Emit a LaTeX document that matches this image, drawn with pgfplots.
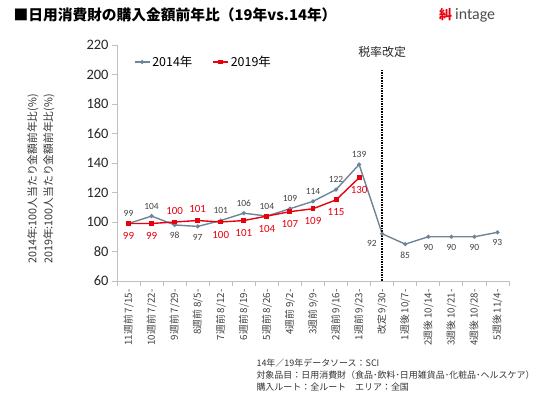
\documentclass[border=0pt]{standalone}
\usepackage{pgfplots}
\pgfplotsset{compat=1.18}
\usepackage{fontspec}
\setmainfont{Carlito}
\newfontfamily\cjk{Noto Sans CJK JP}
\definecolor{c14}{HTML}{6F8497}
\definecolor{c19}{HTML}{E8000F}
\definecolor{lab14}{HTML}{404040}
\definecolor{axgray}{HTML}{BFBFBF}
\pgfkeys{/pgf/number format/assume math mode=true}
\begin{document}
\begin{tikzpicture}[x=1bp,y=1bp]
\useasboundingbox (0,0) rectangle (544,398);
\node[anchor=west, font=\cjk\bfseries\fontsize{14.8}{16}\selectfont] at (10,383) {■日用消費財の購入金額前年比（19年vs.14年）};
\node[anchor=west, text=c19, font=\cjk\bfseries\fontsize{13}{14}\selectfont, inner sep=0] at (439,383) {糾};
\node[anchor=west, text=black!70, font=\fontsize{16}{18}\selectfont, inner sep=0] at (455,383) {intage};
\node[rotate=90, font=\cjk\fontsize{10.8}{12}\selectfont, text=black!80] at (33,219) {2014年:100人当たり金額前年比(\%)};
\node[rotate=90, font=\cjk\fontsize{10.8}{12}\selectfont, text=black!80] at (49,219) {2019年:100人当たり金額前年比(\%)};
\begin{axis}[
  at={(117bp,117bp)}, anchor=south west,
  scale only axis, width=392bp, height=236bp,
  xmin=-0.5, xmax=16.5, ymin=60, ymax=220,
  axis lines=left, axis line style={draw=axgray, line width=0.8pt, -},
  ytick={60,80,...,220},
  ytick style={draw=axgray, line width=0.8pt},
  tick align=outside, major tick length=5bp,
  yticklabel style={font=\fontsize{14.5}{16}\selectfont, text=black!85},
  xtick={0,...,16},
  xtick style={draw=none},
  xticklabels={11週前 7/15-,10週前 7/22-,9週前 7/29-,8週前 8/5-,7週前 8/12-,6週前 8/19-,5週前 8/26-,4週前 9/2-,3週前 9/9-,2週前 9/16-,1週前 9/23-,改定 9/30-,1週後 10/7-,2週後 10/14-,3週後 10/21-,4週後 10/28-,5週後 11/4-},
  xticklabel style={rotate=90, anchor=east, font=\cjk\fontsize{9.8}{10}\selectfont, text=lab14},
  extra x ticks={-0.5,0.5,...,16.5},
  extra x tick labels={},
  extra x tick style={xtick style={draw=axgray, line width=0.8pt}},
  legend style={at={(0.035,0.928)}, anchor=west, draw=none, fill=none, legend columns=2,
    font=\cjk\fontsize{12.5}{14}\selectfont,
    /tikz/every even column/.append style={column sep=18bp}},
  legend image code/.code={\draw[mark repeat=2, mark phase=2, #1] plot coordinates {(0bp,0bp) (7.5bp,0bp) (15bp,0bp)};},
  clip=false,
]
\addplot[c14, line width=1.4pt, mark=*, mark size=1.3pt] coordinates {
(0,99) (1,104) (2,98) (3,97) (4,101) (5,106) (6,104) (7,109) (8,114) (9,122) (10,139) (11,92) (12,85) (13,90) (14,90) (15,90) (16,93)};
\addlegendentry{2014年}
\addplot[c19, line width=1.4pt, mark=square*, mark size=1.8pt] coordinates {
(0,99) (1,99) (2,100) (3,101) (4,100) (5,101) (6,104) (7,107) (8,109) (9,115) (10,130)};
\addlegendentry{2019年}
\addplot[black, densely dotted, line width=1.6pt, forget plot] coordinates {(11,60) (11,204)};
% 2014 labels above
\addplot[draw=none, forget plot, nodes near coords, point meta=y,
  every node near coord/.style={anchor=south, yshift=3.5bp, font=\fontsize{9.5}{10}\selectfont, text=lab14}]
  coordinates {(0,99) (1,104) (4,101) (5,106) (6,104) (7,109) (8,114) (9,122) (10,139)};
% 2014 labels below
\addplot[draw=none, forget plot, nodes near coords, point meta=y,
  every node near coord/.style={anchor=north, yshift=-4bp, font=\fontsize{9.5}{10}\selectfont, text=lab14}]
  coordinates {(2,98) (3,97) (12,85) (13,90) (14,90) (15,90) (16,93)};
\addplot[draw=none, forget plot, nodes near coords, point meta=y,
  every node near coord/.style={anchor=north east, yshift=-3bp, xshift=-2bp, font=\fontsize{9.5}{10}\selectfont, text=lab14}]
  coordinates {(11,92)};
% 2019 labels above
\addplot[draw=none, forget plot, nodes near coords, point meta=y,
  every node near coord/.style={anchor=south, yshift=4bp, font=\fontsize{11}{12}\selectfont, text=c19}]
  coordinates {(2,100) (3,101)};
% 2019 labels below
\addplot[draw=none, forget plot, nodes near coords, point meta=y,
  every node near coord/.style={anchor=north, yshift=-5.5bp, font=\fontsize{11}{12}\selectfont, text=c19}]
  coordinates {(0,99) (1,99) (4,100) (5,101) (6,104) (7,107) (8,109) (9,115) (10,130)};
\node[font=\cjk\fontsize{12}{14}\selectfont, text=black!85] at (axis cs:11,215) {税率改定};
\end{axis}
\node[anchor=west, font=\cjk\fontsize{9}{11}\selectfont, text=black!80] at (253,35) {14年／19年データソース：SCI};
\node[anchor=west, font=\cjk\fontsize{9}{11}\selectfont, text=black!80] at (253,23) {対象品目：日用消費財（食品･飲料･日用雑貨品･化粧品･ヘルスケア）};
\node[anchor=west, font=\cjk\fontsize{9}{11}\selectfont, text=black!80] at (253,11) {購入ルート：全ルート　エリア：全国};
\end{tikzpicture}
\end{document}
